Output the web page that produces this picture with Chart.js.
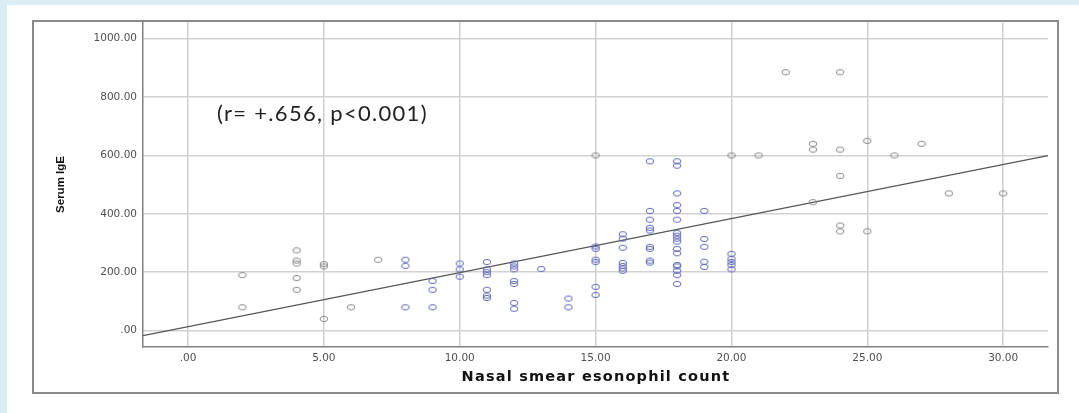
<!DOCTYPE html>
<html>
<head>
<meta charset="utf-8">
<script src="https://cdn.jsdelivr.net/npm/chart.js@4.4.0/dist/chart.umd.min.js"></script>
<style>
  html, body { margin:0; padding:0; background:#d9edf3; }
  #panel { position:absolute; left:7px; top:5px; width:1072px; height:408px; background:#fff; }
  #frame { position:absolute; left:32px; top:20px; width:1027px; height:374px; border:2px solid #8a8a8a; box-sizing:border-box; }
  #wrap { position:absolute; left:0; top:0; width:1079px; height:413px; }
</style>
</head>
<body>
<div id="panel"></div>
<div id="frame"></div>
<div id="wrap"><canvas id="c"></canvas></div>
<script>
/* nasal eosinophil count vs serum IgE */
const eosinophilCount = [
  2, 2,
  4, 4, 4, 4, 4,
  5, 5, 5,
  6, 7,
  8, 8, 8,
  9, 9, 9,
  10, 10, 10,
  11, 11, 11, 11, 11, 11, 11,
  12, 12, 12, 12, 12, 12, 12,
  13, 14, 14,
  15, 15, 15, 15, 15, 15, 15,
  16, 16, 16, 16, 16, 16, 16,
  17, 17, 17, 17, 17, 17, 17, 17, 17,
  18, 18, 18, 18, 18, 18, 18, 18, 18, 18, 18, 18, 18, 18, 18, 18, 18,
  19, 19, 19, 19, 19,
  20, 20, 20, 20, 20, 20,
  21, 22,
  23, 23, 23,
  24, 24, 24, 24, 24,
  25, 25,
  26, 27, 28, 30
];
const serumIgE = [
  190, 80,
  275, 240, 230, 180, 140,
  228, 220, 40,
  80, 243,
  243, 222, 80,
  170, 140, 80,
  230, 210, 185,
  235, 210, 200, 190, 140, 120, 112,
  230, 220, 210, 170, 160, 95, 75,
  211, 110, 80,
  600, 288, 280, 243, 235, 150, 122,
  330, 315, 284, 232, 222, 213, 205,
  580, 410, 380, 352, 343, 287, 280, 240, 233,
  580, 565, 470, 430, 410, 380, 335, 325, 315, 305, 280, 265, 225, 220, 205, 190, 160,
  410, 314, 287, 236, 218,
  600, 263, 246, 235, 225, 210,
  600, 885,
  640, 620, 440,
  885, 620, 530, 360, 340,
  650, 340,
  600, 640, 470, 470
];
const xTicks = [0, 5, 10, 15, 20, 25, 30];
const yTicks = [0, 200, 400, 600, 800, 1000];
const xRange = [-1.656, 31.65];
const yRange = [-56, 1057];
// fit line as drawn in the figure
const fitIntercept = 13.6;
const fitSlope = 18.5;
const annotation = '(r= +.656, p<0.001)';
const xTitle = 'Nasal smear esonophil count';

function ellipseMarker(color) {
  const cv = document.createElement('canvas');
  cv.width = 10; cv.height = 8;
  const g = cv.getContext('2d');
  g.strokeStyle = color;
  g.lineWidth = 1;
  g.beginPath();
  g.ellipse(5, 4, 3.8, 2.6, 0, 0, Math.PI * 2);
  g.stroke();
  return cv;
}
const grayMark = ellipseMarker('#8a8a8a');
const blueMark = ellipseMarker('#6269b8');

const fmt = v => v === 0 ? '.00' : v.toFixed(2);

const points = eosinophilCount.map((x, i) => ({ x, y: serumIgE[i] }));
const fitData = xRange.map(x => ({ x, y: fitIntercept + fitSlope * x }));

// the r/p note and the wide bold x title
const textPlugin = {
  id: 'texts',
  afterDraw(chart) {
    const ctx = chart.ctx;
    const area = chart.chartArea;
    ctx.save();
    ctx.textBaseline = 'middle';
    ctx.font = '22px Lato';
    ctx.letterSpacing = '1.3px';
    ctx.fillStyle = '#222';
    ctx.fillText(annotation, 217, 114);
    ctx.font = 'bold 14.5px "DejaVu Sans"';
    ctx.letterSpacing = '1.2px';
    ctx.fillStyle = '#111';
    ctx.textAlign = 'center';
    ctx.fillText(xTitle, 596, 377);
    ctx.restore();
  }
};

new Chart(document.getElementById('c'), {
  type: 'scatter',
  data: {
    datasets: [
      {
        data: points,
        pointStyle: ctx => {
          const p = ctx.raw;
          return (p && p.x >= 7.5 && p.x <= 20.5 && p.y < 590) ? blueMark : grayMark;
        },
        pointRadius: 4,
        pointHoverRadius: 4
      },
      {
        type: 'line',
        data: fitData,
        borderColor: '#555',
        borderWidth: 1.3,
        pointRadius: 0,
        fill: false
      }
    ]
  },
  options: {
    responsive: true, maintainAspectRatio: false, animation: false,
    layout: { padding: { left: 0, top: 22, right: 31, bottom: 0 } },
    plugins: { legend: { display: false }, tooltip: { enabled: false } },
    scales: {
      x: {
        type: 'linear', min: xRange[0], max: xRange[1],
        afterBuildTicks: s => { s.ticks = xTicks.map(value => ({ value })); },
        afterFit: s => { s.height = 66; },
        grid: { color: '#cfcfcf', lineWidth: 1.5, drawTicks: false },
        border: { color: '#808080', width: 1.5 },
        ticks: { padding: 5, color: '#505050', font: { family: 'DejaVu Sans', size: 10.5 }, callback: fmt, maxRotation: 0 }
      },
      y: {
        type: 'linear', min: yRange[0], max: yRange[1],
        afterBuildTicks: s => { s.ticks = yTicks.map(value => ({ value })); },
        afterFit: s => { s.width = 143; },
        grid: { color: '#d2d2d2', lineWidth: 1.5, drawTicks: false },
        border: { color: '#808080', width: 1.5 },
        ticks: { padding: 6, color: '#505050', font: { family: 'DejaVu Sans', size: 10.5 }, callback: fmt },
        title: { display: true, text: 'Serum IgE', color: '#111',
                 font: { family: 'Liberation Sans', size: 11.5, weight: 'bold' }, padding: { top: 54, bottom: 0 } }
      }
    }
  },
  plugins: [textPlugin]
});
</script>
</body>
</html>
